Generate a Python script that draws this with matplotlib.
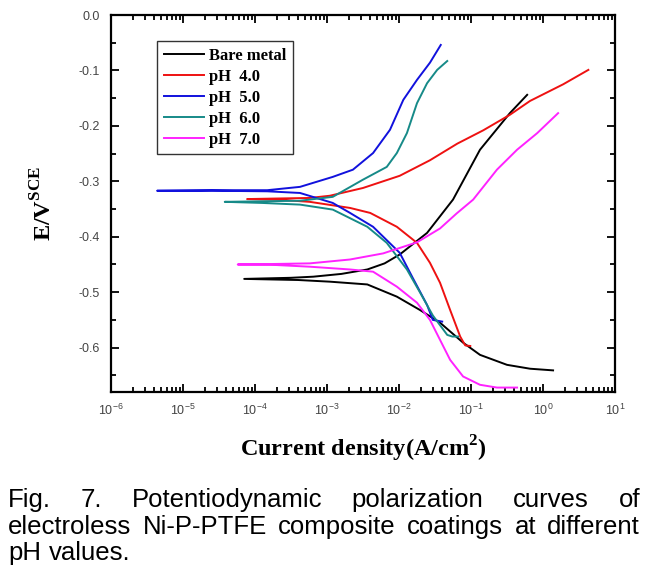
import matplotlib
matplotlib.use("Agg")
import matplotlib.pyplot as plt
from matplotlib.ticker import LogLocator, MultipleLocator, NullFormatter, FormatStrFormatter

plt.rcParams["font.family"] = ["Liberation Sans", "DejaVu Sans"]
plt.rcParams["axes.unicode_minus"] = False

# log10 of current density (A/cm2) and potential (V vs SCE),
# each curve read from the cathodic end, through Ecorr, to the anodic end
bare_logi = [0.14, -0.18, -0.5, -0.875, -1.11, -1.43, -1.71, -2.03, -2.44, -2.96, -3.4, -4.15,
             -3.5, -3.19, -2.8, -2.44, -2.2, -1.99, -1.61, -1.25, -0.875, -0.46, -0.22]
bare_e = [-0.641, -0.638, -0.631, -0.613, -0.591, -0.555, -0.532, -0.508, -0.486, -0.481, -0.478, -0.476,
          -0.474, -0.472, -0.467, -0.459, -0.448, -0.432, -0.393, -0.333, -0.243, -0.177, -0.144]

ph4_logi = [-1.01, -1.08, -1.15, -1.29, -1.43, -1.57, -1.75, -2.03, -2.40, -2.68, -3.24, -3.7, -4.11,
            -3.7, -3.24, -2.96, -2.5, -1.99, -1.57, -1.19, -0.83, -0.46, -0.18, 0.28, 0.63]
ph4_e = [-0.597, -0.596, -0.580, -0.532, -0.483, -0.447, -0.411, -0.382, -0.357, -0.348, -0.337, -0.333, -0.332,
         -0.331, -0.330, -0.326, -0.312, -0.290, -0.262, -0.232, -0.208, -0.180, -0.155, -0.125, -0.099]

ph5_logi = [-1.40, -1.53, -1.61, -1.81, -1.99, -2.36, -2.68, -2.92, -3.375, -3.83, -4.6, -5.36,
            -4.6, -3.83, -3.375, -2.92, -2.64, -2.36, -2.125, -1.94, -1.75, -1.57, -1.42]
ph5_e = [-0.553, -0.550, -0.523, -0.474, -0.429, -0.382, -0.357, -0.339, -0.321, -0.318, -0.317, -0.317,
         -0.316, -0.316, -0.310, -0.292, -0.279, -0.249, -0.207, -0.153, -0.117, -0.086, -0.054]

ph6_logi = [-1.18, -1.26, -1.33, -1.53, -1.71, -1.89, -2.17, -2.44, -2.92, -3.375, -3.9, -4.42,
            -3.9, -3.375, -2.92, -2.5, -2.17, -2.03, -1.89, -1.75, -1.61, -1.47, -1.33]
ph6_e = [-0.580, -0.580, -0.577, -0.542, -0.500, -0.459, -0.411, -0.382, -0.351, -0.342, -0.339, -0.337,
         -0.336, -0.335, -0.328, -0.297, -0.274, -0.249, -0.213, -0.159, -0.123, -0.099, -0.083]

ph7_logi = [-0.36, -0.64, -0.875, -1.11, -1.29, -1.43, -1.57, -1.75, -2.03, -2.36, -2.68, -3.24, -3.7, -4.24,
            -3.7, -3.24, -2.68, -2.22, -1.75, -1.43, -1.2, -0.97, -0.64, -0.36, -0.08, 0.21]
ph7_e = [-0.672, -0.672, -0.667, -0.652, -0.622, -0.586, -0.550, -0.519, -0.490, -0.463, -0.459, -0.454, -0.451, -0.450,
         -0.449, -0.448, -0.441, -0.430, -0.410, -0.385, -0.358, -0.333, -0.279, -0.243, -0.213, -0.177]

labels = ["Bare metal", "pH  4.0", "pH  5.0", "pH  6.0", "pH  7.0"]
colors = ["#000000", "#ee1111", "#1111dd", "#168a88", "#ff22ff"]
curves = [(bare_logi, bare_e), (ph4_logi, ph4_e), (ph5_logi, ph5_e),
          (ph6_logi, ph6_e), (ph7_logi, ph7_e)]

W, H = 658, 575
fig = plt.figure(figsize=(W / 100, H / 100), dpi=100)
ax = fig.add_axes([111 / W, 1 - 392 / H, (615 - 111) / W, (392 - 15) / H])

for (logi, e), c, lab in zip(curves, colors, labels):
    ax.plot([10 ** v for v in logi], e, color=c, lw=1.4, label=lab)

ax.set_xscale("log")
ax.set_xlim(1e-6, 10)
ax.set_ylim(-0.68, 0)
ax.xaxis.set_major_locator(LogLocator(base=10, numticks=10))
ax.xaxis.set_minor_locator(LogLocator(base=10, subs=range(2, 10), numticks=20))
ax.xaxis.set_minor_formatter(NullFormatter())
ax.yaxis.set_major_locator(MultipleLocator(0.1))
ax.yaxis.set_minor_locator(MultipleLocator(0.05))
ax.yaxis.set_major_formatter(FormatStrFormatter("%.1f"))

for s in ax.spines.values():
    s.set_linewidth(1.6)
ax.tick_params(which="both", direction="in", top=True, right=True, width=1.3,
               labelsize=9, labelcolor="#444444")
ax.tick_params(which="major", length=6, pad=8)
ax.tick_params(which="minor", length=3.5)

serif = {"family": "Liberation Serif", "weight": "bold"}
ax.set_xlabel(r"Current density(A/cm$^{\mathdefault{2}}$)", fontsize=17.5, labelpad=11, **serif)
ax.set_ylabel(r"E/V$^{\mathdefault{SCE}}$", fontsize=17.5, labelpad=16, **serif)

leg = ax.legend(loc="upper left", bbox_to_anchor=((157 - 111) / 504, (392 - 41) / 377),
                borderaxespad=0, fancybox=False, edgecolor="#333333", framealpha=1,
                prop={"family": "Liberation Serif", "weight": "bold", "size": 12},
                handlelength=2.4, handletextpad=0.3, labelspacing=0.3, borderpad=0.4)
leg.get_frame().set_linewidth(1.0)

# justified caption
caption = [
    "Fig. 7. Potentiodynamic polarization curves of".split(),
    "electroless Ni-P-PTFE composite coatings at different".split(),
    "pH values.".split(),
]
baselines = [507, 534, 560]
renderer = fig.canvas.get_renderer()
left, right = 8, 640
for i, (words, base) in enumerate(zip(caption, baselines)):
    texts = [fig.text(0, 1 - base / H, w, fontsize=18.5, va="baseline") for w in words]
    widths = [t.get_window_extent(renderer).width for t in texts]
    if i < len(caption) - 1:
        gap = (right - left - sum(widths)) / (len(words) - 1)
    else:
        gap = 0.3 * 18.5 * 100 / 72
    x = left
    for t, w in zip(texts, widths):
        t.set_x(x / W)
        x += w + gap

fig.savefig("out.png", dpi=100)
